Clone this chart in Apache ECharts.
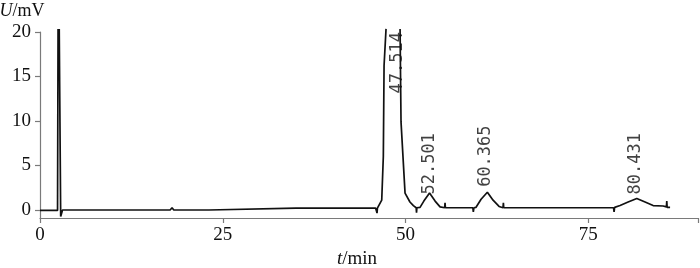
<!DOCTYPE html>
<html>
<head>
<meta charset="utf-8">
<script src="https://cdn.jsdelivr.net/npm/echarts@6/dist/echarts.min.js"></script>
<style>
html,body{margin:0;padding:0;background:#fff;}
#chart{width:700px;height:268px;}
</style>
</head>
<body>
<div id="chart"></div>
<script>
// retention time (min) and detector signal (mV); null = trace leaves the plot (off-scale)
var signalTime = [
  0, 2.4, 2.47, 2.55, 2.63, 2.83, 3.08, 10, 17.8, 18.06, 18.3, 23.1, 23.25, 35, 45.9,
  46.05, 46.1, 46.15, 46.74, 46.96, 47.06, 47.33, 48.3, 49.25, 49.38, 49.93, 50.6, 51.07, 51.45, 51.5, 51.55,
  51.98, 52.5, 53.28, 54.04, 54.72, 55.35, 55.4, 55.45, 59.2,
  59.27, 59.35, 59.64, 60.33, 61.19, 61.97, 62.79, 63.33, 63.38, 63.43, 78.45,
  78.52, 78.6, 79.34, 80.44, 81.63, 82.76, 83.86, 85.23, 85.68, 85.73, 85.78, 86.18
];
var signalVoltage = [
  -0.05, -0.05, 20.35, null, 20.35, -0.73, 0, 0, 0, 0.25, 0, 0, 0.22, 0.22, 0.22,
  0.2, -0.35, 0.2, 1.1, 6.0, 16.2, 20.35, null, 20.35, 9.9, 1.9, 0.9, 0.5, 0.25, -0.3, 0.25,
  0.3, 1.0, 1.9, 1.0, 0.35, 0.25, 0.8, 0.25, 0.25,
  -0.2, 0.25, 0.3, 1.2, 2.0, 1.1, 0.4, 0.25, 0.8, 0.25, 0.25,
  -0.2, 0.3, 0.5, 0.9, 1.3, 0.9, 0.5, 0.45, 0.35, 1.0, 0.3, 0.3
];
// peak annotations (retention times) and where their text starts
var peakLabels = ['47.514', '52.501', '60.365', '80.431'];
var peakLabelTime = [48.97, 53.35, 61.0, 81.5];
var peakLabelVoltage = [13.1, 1.75, 2.6, 1.75];
// axis ticks
var xTickLabels = [0, 25, 50, 75];
var xTicks = [0, 25, 50, 75, 90];
var yTickLabels = [0, 5, 10, 15, 20];

var trace = signalTime.map(function (t, i) { return [t, signalVoltage[i]]; });
var labelPts = peakLabels.map(function (s, i) {
  return { value: [peakLabelTime[i], peakLabelVoltage[i]], name: s };
});

var axisColor = '#7a7a7a';
var serif = '"Liberation Serif", "DejaVu Serif", serif';

var chart = echarts.init(document.getElementById('chart'));
chart.setOption({
  animation: false,
  backgroundColor: '#fff',
  grid: { left: 40, right: 2, top: 32, bottom: 50, outerBoundsMode: 'none', containLabel: false },
  xAxis: {
    type: 'value', min: 0, max: 90,
    name: '{i|t}/min', nameLocation: 'middle', nameGap: 30,
    nameTextStyle: {
      fontFamily: serif, fontSize: 19, color: '#111', padding: [0, 24, 0, 0],
      rich: { i: { fontStyle: 'italic', fontFamily: serif, fontSize: 19, color: '#111' } }
    },
    axisLine: { show: true, onZero: false, lineStyle: { color: axisColor, width: 1.2 } },
    axisTick: { show: true, inside: false, length: 5, customValues: xTicks, lineStyle: { color: axisColor, width: 1.2 } },
    axisLabel: { customValues: xTickLabels, margin: 8, fontFamily: serif, fontSize: 19, color: '#111' },
    splitLine: { show: false }
  },
  yAxis: {
    type: 'value', min: -0.9, max: 20,
    name: '{i|U}/mV', nameLocation: 'end', nameGap: 12,
    nameTextStyle: {
      fontFamily: serif, fontSize: 18, color: '#111', align: 'center', padding: [0, 36, 0, 0],
      rich: { i: { fontStyle: 'italic', fontFamily: serif, fontSize: 18, color: '#111' } }
    },
    axisLine: { show: true, onZero: false, lineStyle: { color: axisColor, width: 1.2 } },
    axisTick: { show: true, inside: false, length: 5, customValues: yTickLabels, lineStyle: { color: axisColor, width: 1.2 } },
    axisLabel: { customValues: yTickLabels, margin: 9, fontFamily: serif, fontSize: 19, color: '#111' },
    splitLine: { show: false }
  },
  series: [
    {
      type: 'line', data: trace, showSymbol: false, symbol: 'none', clip: false,
      connectNulls: false,
      lineStyle: { color: '#111', width: 1.7 },
      z: 3
    },
    {
      type: 'scatter', data: labelPts, symbolSize: 1, clip: false,
      itemStyle: { color: 'rgba(0,0,0,0)' },
      label: {
        show: true, position: 'inside', rotate: 90, align: 'left', verticalAlign: 'middle',
        formatter: function (p) { return p.name; },
        fontFamily: '"DejaVu Sans Mono", "Liberation Mono", monospace', fontSize: 17, color: '#111'
      },
      z: 4
    }
  ]
});
</script>
</body>
</html>
